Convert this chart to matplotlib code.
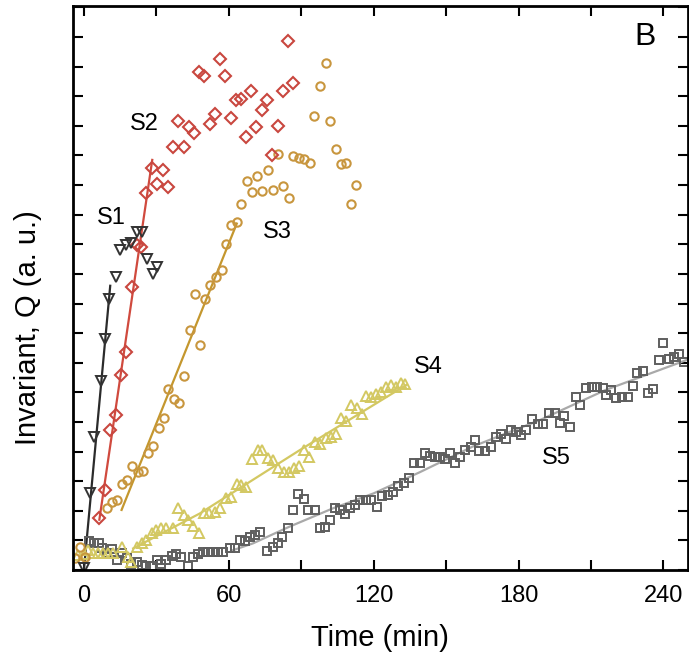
import matplotlib.pyplot as plt
from matplotlib.ticker import MultipleLocator

plt.rcParams['font.family'] = ['Liberation Sans', 'DejaVu Sans']

# S1 - fastest
s1_t = [0.2, 2.5, 4.3, 6.9, 8.7, 10.5, 13.2, 14.9, 17.6, 19.7, 21.8, 23.9, 26.2, 28.7, 30.3]
s1_q = [0.08, 2.6, 4.5, 6.4, 7.8, 9.15, 9.9, 10.8, 10.98, 11.04, 11.4, 11.4, 10.5, 10.0, 10.25]
s1_fit_t = [0.0, 10.9]
s1_fit_q = [0.0, 9.6]

# S2
s2_t = [6.3, 8.9, 10.7, 13.2, 15.5, 17.6, 20.0, 22.1, 23.8, 25.9, 28.3, 30.3, 32.8, 34.9, 36.9,
        39.0, 41.4, 43.4, 45.6, 47.6, 49.8, 52.1, 54.2, 56.3, 58.6, 60.8, 62.9, 65.0, 67.0,
        69.4, 71.4, 73.8, 75.8, 77.9, 80.4, 82.5, 84.5, 86.6]
s2_q = [1.75, 2.7, 4.74, 5.22, 6.59, 7.38, 9.55, 10.98, 10.92, 12.73, 13.57, 13.04, 13.51, 12.92, 14.3,
        15.15, 14.28, 14.95, 14.77, 16.81, 16.7, 15.06, 15.41, 17.26, 16.69, 15.26, 15.88, 15.91, 14.64,
        16.19, 14.95, 15.54, 15.88, 14.02, 15.01, 16.18, 17.85, 16.44]
s2_fit_t = [6.4, 28.3]
s2_fit_q = [1.7, 13.85]

# S3
s3_t = [-3.5, -1.8, 0.5, 9.4, 11.5, 13.5, 15.6, 17.7, 20.1, 22.5, 24.5, 26.6, 28.5, 31.1, 33.1,
        35.0, 37.3, 39.4, 41.6, 43.8, 45.8, 48.0, 50.1, 52.1, 54.6, 57.0, 58.8, 60.8, 63.2, 65.2,
        67.4, 69.7, 71.7, 73.9, 76.1, 78.3, 80.5, 82.6, 84.9, 86.6, 89.1, 91.2, 93.5, 95.3, 97.6,
        100.1, 102.1, 104.3, 106.3, 108.7, 110.7, 112.8]
s3_q = [0.4, 0.78, 0.45, 2.08, 2.31, 2.36, 2.9, 3.04, 3.51, 3.32, 3.36, 3.94, 4.2, 4.8, 5.14,
        6.1, 5.78, 5.65, 6.56, 8.12, 9.33, 7.6, 9.15, 9.63, 9.88, 10.14, 11.0, 11.66, 11.75, 12.36,
        13.13, 12.77, 13.31, 12.8, 13.51, 12.82, 14.04, 12.97, 12.58, 13.99, 13.9, 13.87, 13.76, 15.34, 16.35,
        17.12, 15.16, 14.21, 13.72, 13.74, 12.36, 13.0]
s3_fit_t = [15.6, 63.3]
s3_fit_q = [2.03, 11.7]

# S4
s4_t = [-2.5, 0.0, 1.8, 3.9, 5.9, 8.0, 10.1, 12.1, 15.6, 18.3, 19.7, 21.8, 23.9, 25.9, 28.0, 30.0,
        32.1, 34.2, 37.0, 39.0, 41.4, 43.2, 45.2, 47.7, 49.6, 51.9, 54.2, 56.3, 58.8, 61.1, 63.2,
        65.2, 67.3, 69.6, 72.1, 73.9, 76.3, 78.3, 80.4, 82.7, 84.9, 86.8, 89.0, 91.3, 93.3, 95.6,
        97.8, 100.1, 102.3, 104.4, 106.6, 108.6, 110.8, 112.9, 115.3, 117.0, 119.0, 121.1, 123.2,
        125.2, 127.3, 129.3, 131.4, 133.0]
s4_q = [0.5, 0.55, 0.68, 0.56, 0.58, 0.56, 0.58, 0.56, 0.79, 0.45, 0.28, 0.79, 0.9, 1.01, 1.24, 1.35,
        1.41, 1.41, 1.41, 2.08, 1.86, 1.69, 1.49, 1.24, 1.91, 1.91, 1.97, 2.08, 2.42, 2.48, 2.91,
        2.87, 2.81, 3.75, 4.05, 4.05, 3.77, 3.72, 3.46, 3.32, 3.32, 3.43, 3.53, 4.05, 3.83, 4.31,
        4.25, 4.47, 4.5, 4.6, 5.15, 5.04, 5.57, 5.46, 5.27, 5.88, 5.86, 5.95, 6.02,
        6.17, 6.25, 6.19, 6.31, 6.28]
s4_fit_t = [20.4, 48.0, 89.4, 133.5]
s4_fit_q = [0.73, 1.91, 4.05, 6.25]

# S5 - slowest
s5_t = [2.2, 4.3, 6.3, 7.3, 9.4, 11.5, 13.5, 15.6, 17.7, 19.7, 21.8, 23.9, 25.9, 28.0, 30.1,
        32.1, 34.2, 36.3, 38.3, 40.4, 43.2, 45.2, 47.3, 49.4, 51.4, 53.5, 55.6, 57.6, 60.4, 62.5,
        64.5, 66.6, 68.7, 70.8, 72.8, 75.8, 78.3, 80.4, 82.2, 84.5, 86.6, 88.7, 91.1, 92.8, 95.6,
        97.6, 99.7, 101.8, 103.8, 105.9, 108.0, 110.1, 112.1, 114.2, 116.9, 119.0, 121.4, 123.5, 125.9,
        128.0, 130.0, 132.4, 134.5, 136.5, 139.0, 141.1, 143.2, 145.2, 147.3, 149.4, 151.4, 153.5, 155.6,
        158.0, 160.1, 161.8, 163.8, 165.9, 168.7, 170.7, 172.8, 174.9, 176.9, 179.0, 181.1, 183.1, 185.6,
        188.0, 190.3, 192.5, 194.9, 197.0, 199.0, 201.1, 203.6, 205.5, 208.0, 210.3, 212.4, 214.9, 216.2,
        218.3, 220.4, 222.8, 225.2, 227.3, 229.1, 231.4, 233.5, 235.8, 238.1, 240.0, 242.4, 244.5, 246.6,
        248.6]
s5_q = [0.99, 0.9, 0.9, 0.73, 0.58, 0.7, 0.34, 0.58, 0.39, 0.22, 0.28, 0.17, 0.14, 0.14, 0.34,
        0.22, 0.34, 0.47, 0.54, 0.45, 0.14, 0.45, 0.54, 0.6, 0.6, 0.6, 0.6, 0.6, 0.73, 0.73,
        1.01, 0.98, 1.1, 1.17, 1.27, 0.64, 0.78, 0.91, 1.1, 1.41, 2.02, 2.58, 2.4, 2.02, 2.02,
        1.41, 1.46, 1.69, 2.08, 2.03, 1.88, 2.08, 2.2, 2.36, 2.38, 2.37, 2.14, 2.5, 2.53,
        2.65, 2.83, 2.95, 3.11, 3.62, 3.63, 3.94, 3.85, 3.83, 3.81, 3.74, 3.94, 3.63, 3.83,
        4.05, 4.17, 4.39, 4.03, 4.03, 4.17, 4.5, 4.59, 4.41, 4.73, 4.67, 4.56, 4.73, 5.09,
        4.93, 4.93, 5.29, 5.32, 4.96, 5.2, 4.84, 5.86, 5.57, 6.14, 6.19, 6.17, 6.14, 5.91,
        6.08, 5.8, 5.83, 5.86, 6.22, 6.64, 6.73, 5.99, 6.1, 7.09, 7.66, 7.12, 7.19, 7.3,
        7.04]
s5_fit_t = [61.0, 70.0, 85.0, 103.0, 120.0, 139.0, 161.0, 189.0, 216.0, 249.5]
s5_fit_q = [0.65, 0.9, 1.46, 2.08, 2.59, 3.3, 4.17, 5.07, 6.08, 7.09]

fig = plt.figure(figsize=(6.89, 6.59), dpi=100)
ax = fig.add_axes([0.106, 0.135, 0.892, 0.856])

# fitted lines
ax.plot(s1_fit_t, s1_fit_q, color='#2b2b2b', lw=1.6)
ax.plot(s2_fit_t, s2_fit_q, color='#d04a3e', lw=1.6)
ax.plot(s3_fit_t, s3_fit_q, color='#c4972e', lw=1.6)
ax.plot(s4_fit_t, s4_fit_q, color='#d3c862', lw=1.6)
ax.plot(s5_fit_t, s5_fit_q, color='#a9a9a9', lw=1.6)

# data points, hollow markers
ax.plot(s5_t, s5_q, 's', ms=5.5, mfc='none', mec='#5e5e5e', mew=1.4)
ax.plot(s4_t, s4_q, '^', ms=7.5, mfc='none', mec='#d3c862', mew=1.4)
ax.plot(s3_t, s3_q, 'o', ms=6, mfc='none', mec='#c8963e', mew=1.5)
ax.plot(s2_t, s2_q, 'D', ms=6.5, mfc='none', mec='#c9473f', mew=1.5)
ax.plot(s1_t, s1_q, 'v', ms=7, mfc='none', mec='#333333', mew=1.4)

ax.text(11.2, 11.9, 'S1', fontsize=17, ha='center', va='center')
ax.text(25.2, 15.07, 'S2', fontsize=17, ha='center', va='center')
ax.text(80.3, 11.4, 'S3', fontsize=17, ha='center', va='center')
ax.text(142.7, 6.86, 'S4', fontsize=17, ha='center', va='center')
ax.text(195.7, 3.78, 'S5', fontsize=17, ha='center', va='center')
ax.text(232.5, 18.0, 'B', fontsize=23, ha='center', va='center')

ax.set_xlim(-4.5, 250)
ax.set_ylim(0, 19.05)
ax.xaxis.set_major_locator(MultipleLocator(60))
ax.xaxis.set_minor_locator(MultipleLocator(30))
ax.yaxis.set_major_locator(MultipleLocator(1))
ax.tick_params(which='both', direction='in', top=True, right=True, length=7, width=1.5,
               labelsize=17, pad=11)
ax.tick_params(axis='y', which='both', labelleft=False)
for s in ax.spines.values():
    s.set_linewidth(2)

ax.set_xlabel('Time (min)', fontsize=21, labelpad=12)
ax.set_ylabel('Invariant, Q (a. u.)', fontsize=21)
ax.yaxis.set_label_coords(-0.05, 0.43)

fig.savefig('out.png', dpi=100)
